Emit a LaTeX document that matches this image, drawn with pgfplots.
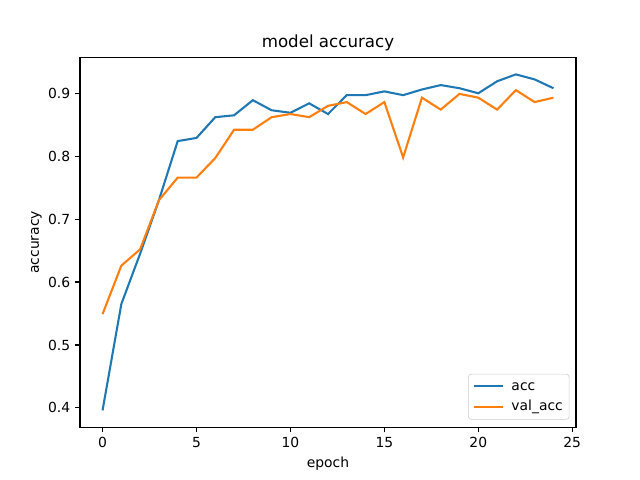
\documentclass[border=0pt]{standalone}
\usepackage{pgfplots}
\pgfplotsset{compat=1.18}
\usepackage{fontspec}
\setmainfont{DejaVu Sans}
\definecolor{tabblue}{HTML}{1F77B4}
\definecolor{taborange}{HTML}{FF7F0E}
\begin{document}
\begin{tikzpicture}
\begin{axis}[
  name=ax,
  scale only axis,
  width=357.12pt, height=266.11pt,
  xmin=-1.2, xmax=25.2, ymin=0.3693, ymax=0.9567,
  xtick={0,5,10,15,20,25},
  ytick={0.4,0.5,0.6,0.7,0.8,0.9},
  yticklabel style={/pgf/number format/fixed,/pgf/number format/precision=1,/pgf/number format/fixed zerofill},
  /pgf/number format/assume math mode=true,
  tick align=outside, tick pos=left,
  major tick length=3.5pt,
  tick style={black, line width=0.8pt},
  axis line style={line width=0.8pt},
  ticklabel style={font=\fontsize{10}{12}\selectfont},
  xlabel={epoch}, ylabel={accuracy},
  ylabel near ticks,
  ylabel style={inner sep=0pt, outer sep=0pt, yshift=1.2pt},
  label style={font=\fontsize{10}{12}\selectfont},
  title={model accuracy},
  title style={font=\fontsize{12}{14}\selectfont, yshift=-4.5pt},
  legend style={at={(1,0)}, anchor=south east, xshift=-4.8pt, yshift=5.5pt,
    font=\fontsize{10}{12}\selectfont, draw=black!20, rounded corners=2pt,
    inner xsep=3pt, inner ysep=2.5pt, row sep=2.5pt, column sep=4pt,
    nodes={inner sep=1.5pt, text height=7.5pt, text depth=2pt}},
  legend cell align=left,
  legend image code/.code={\draw[#1] (0pt,0pt) -- (21pt,0pt);},
]
\addplot[tabblue, line width=1.5pt] coordinates {
(0,0.396) (1,0.565) (2,0.645) (3,0.730) (4,0.824) (5,0.829) (6,0.862) (7,0.865) (8,0.889) (9,0.873) (10,0.869) (11,0.884) (12,0.867) (13,0.897) (14,0.897) (15,0.903) (16,0.897) (17,0.906) (18,0.913) (19,0.908) (20,0.900) (21,0.919) (22,0.930) (23,0.922) (24,0.908)
};
\addlegendentry{acc}
\addplot[taborange, line width=1.5pt] coordinates {
(0,0.549) (1,0.626) (2,0.652) (3,0.730) (4,0.766) (5,0.766) (6,0.797) (7,0.842) (8,0.842) (9,0.862) (10,0.867) (11,0.862) (12,0.880) (13,0.886) (14,0.867) (15,0.886) (16,0.798) (17,0.893) (18,0.874) (19,0.899) (20,0.893) (21,0.874) (22,0.905) (23,0.886) (24,0.893)
};
\addlegendentry{val\_acc}
\end{axis}
\useasboundingbox ([shift={(-57.6pt,-38.02pt)}]ax.south west) rectangle ([shift={(46.08pt,41.47pt)}]ax.north east);
\end{tikzpicture}
\end{document}
